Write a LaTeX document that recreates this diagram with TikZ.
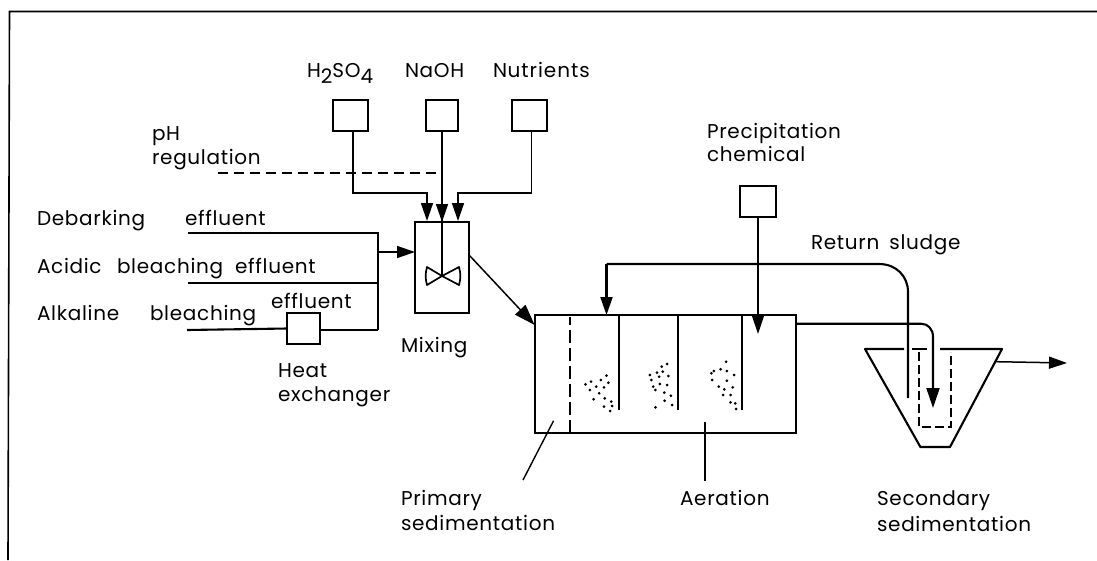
\documentclass[tikz,border=0pt]{standalone}
\usepackage{fontspec}
\setmainfont[LetterSpace=3.5]{Poppins}
\usetikzlibrary{arrows.meta}
\tikzset{
  lbl/.style={anchor=base west,inner sep=0pt,outer sep=0pt,font=\fontsize{20}{20}\selectfont},
  sq/.style={draw=black,line width=2.2pt,inner sep=0pt,outer sep=0pt,fill=none},
  wire/.style={line width=1.5pt,line cap=round},
  heavy/.style={line width=2.1pt},
  arr/.style={-{Triangle[length=18pt,width=12pt]}},
  dash1/.style={line width=1.5pt,dash pattern=on 10pt off 6pt},
  leader/.style={line width=1.4pt}
}
\begin{document}
\begin{tikzpicture}[x=1pt,y=-1pt]
\useasboundingbox (0,0) rectangle (1097,560);
\coordinate (fa) at (8,560); \coordinate (fb) at (9.5,11.5); \coordinate (fc) at (1097,11.5);
\draw[line width=1.6pt] (fa) -- (fb) -- (fc);
% labels
\node[lbl] (th) at (307,77) {H\raisebox{-6pt}{2}SO\raisebox{-6pt}{4}};
\node[lbl] (tn) at (405,77) {NaOH};
\node[lbl] (tu) at (493,77) {Nut\hspace{1pt}r\hspace{1pt}i\hspace{1pt}e\hspace{1pt}n\hspace{1pt}t\hspace{1pt}s};
\node[lbl] (tph) at (152,140) {pH};
\node[lbl] (trg) at (152,164) {regulation};
\node[lbl] (tdb) at (37,225) {Debarking};
\node[lbl] (tde) at (185,225) {effluent};
\node[lbl] (tac) at (37,273) {Acidic};
\node[lbl] (tab) at (117,273) {bleaching};
\node[lbl] (tae) at (235,273) {effluent};
\node[lbl] (tal) at (37,320) {Alkaline};
\node[lbl] (tbl) at (150,320) {bleaching};
\node[lbl] (tee) at (271,308) {effluent};
\node[lbl] (the) at (278,377) {Heat};
\node[lbl] (tex) at (278,401) {exchanger};
\node[lbl] (tmx) at (401,352) {Mixing};
\node[lbl] (tpr) at (401,505) {Primary};
\node[lbl] (tps) at (401,530) {sedimentation};
\node[lbl] (tae2) at (680,505) {Aeration};
\node[lbl] (tse) at (877,505) {Secondary};
\node[lbl] (tss) at (877,531) {sedimentation};
\node[lbl] (tpc) at (707,138) {Precipitation};
\node[lbl] (tch) at (707,161) {chemical};
\node[lbl] (trs) at (811,249) {Return\hspace{10pt}sludge};
% boxes
\node[sq,minimum width=35pt,minimum height=31pt] (bh) at (350.5,115.5) {};
\node[sq,minimum width=32pt,minimum height=31pt] (bn) at (442,115.5) {};
\node[sq,minimum width=35pt,minimum height=31pt] (bu) at (529.5,115.5) {};
\node[sq,minimum width=36pt,minimum height=31pt] (bp) at (758,201.5) {};
\node[sq,minimum width=33pt,minimum height=31pt] (bx) at (303.5,328.5) {};
\node[sq,minimum width=54pt,minimum height=91pt] (mix) at (442,267.5) {};
\node[sq,minimum width=261pt,minimum height=118pt] (tank) at (665.5,374) {};
% inputs to mixer
\coordinate (m1) at (427,221); \coordinate (m3) at (458,221);
\coordinate (jh) at (353,193); \coordinate (ju) at (531.5,193);
\coordinate (imp) at (442,276);
\draw[wire,arr] (bh.south -| jh) -- (jh) -| (m1);
\draw[wire,arr] (bu.south -| ju) -- (ju) -| (m3);
\draw[wire] (bn.south) -- (imp);
\draw[wire,arr] (bn.south) -- (mix.north);
\coordinate (phs) at (217.5,173); \coordinate (phe) at (438,173);
\draw[dash1] (phs) -- (phe);
% impeller
\coordinate (i1) at (427,267); \coordinate (i2) at (427,285); \coordinate (i3) at (459,267); \coordinate (i4) at (459,285);
\draw[line width=1.7pt,line join=round] (imp) -- (i1) to[bend right=15] (i2) -- (imp) -- (i3) to[bend left=15] (i4) -- cycle;
% effluents
\coordinate (e1) at (188,233); \coordinate (e2) at (188,283); \coordinate (e3) at (187,330);
\coordinate (ej1) at (378,233); \coordinate (ej2) at (378,283); \coordinate (ej3) at (378,330); \coordinate (ej) at (378,252);
\draw[heavy] (e1) -- (ej1) -- (ej3);
\draw[heavy] (e2) -- (ej2);
\draw[heavy] (e3) -- (bx.west);
\draw[heavy] (bx.east |- ej3) -- (ej3);
\draw[wire,arr] (ej) -- (ej -| mix.west);
% mixer to tank
\coordinate (mo) at (470,256); \coordinate (ti) at (534.6,325);
\draw[wire,-{Triangle[length=21pt,width=14pt]}] (mo) -- (ti);
% tank internals
\coordinate (pt) at (570,433); \coordinate (pb) at (570,317);
\draw[line width=2.2pt,dash pattern=on 13pt off 5pt] (pt) -- (pb);
\coordinate (b1) at (618.5,410); \coordinate (b2) at (677.5,410); \coordinate (b3) at (741.5,410);
\draw[line width=2pt] (b1) -- (b1 |- tank.north);
\draw[line width=2pt] (b2) -- (b2 |- tank.north);
\draw[line width=2pt] (b3) -- (b3 |- tank.north);
\foreach \a/\b in {178/463,190/480,193/455,207/470,215/490,220/450,235/437,228/472,240/458,200/508,230/505,248/515,228/530,245/543,250/528,
 353/435,357/450,362/470,368/480,372/428,378/440,385/410,400/402,388/425,403/438,380/462,400/465,392/488,410/497,368/532,393/512,413/525,
 520/430,527/423,522/450,545/418,560/395,562/423,582/435,562/452,578/472,540/470,555/478,552/495,572/495,572/517,585/520,587/537}
  \fill ({520+\a/2.717},{230+\b/3}) circle (1.5pt);
% return sludge
\coordinate (rs) at (908,398); \coordinate (ra) at (606.5,315); \coordinate (rc) at (606.5,264);
\draw[heavy] (rs) -- (908,292) .. controls (908,276) and (896,264) .. (879,264) -- (rc);
\draw[heavy,arr] (rc) -- (ra);
% precipitation feed
\coordinate (pa) at (758,334);
\draw[wire,-{Triangle[length=20pt,width=13pt]}] (bp.south) -- (pa);
% outflow
\coordinate (oa) at (933,408);
\draw[heavy,-{Triangle[length=20pt,width=13pt]}] (tank.east |- 0,323.7) -- (921,323.7) .. controls (928,323.7) and (933,329) .. (933,337) -- (oa);
% secondary tank
\coordinate (s1) at (865,349); \coordinate (s2) at (920.4,447); \coordinate (s3) at (950,447); \coordinate (s4) at (1002,349);
\draw[heavy,line join=round] (904,349) -- (s1) -- (s2) -- (s3) -- (s4) -- (940,349);
\draw[heavy] (912,349) -- (927,349);
\coordinate (d1) at (919,352); \coordinate (d2) at (919,427); \coordinate (d3) at (951,427); \coordinate (d4) at (951,352);
\draw[line width=1.5pt,dash pattern=on 9pt off 4pt] (d1) -- (d2) -- (d3) -- (d4);
\coordinate (oo) at (996.6,361.7); \coordinate (ot) at (1067,363);
\draw[wire,arr] (oo) -- (ot);
% leaders
\coordinate (l1) at (553.6,420.7); \coordinate (l2) at (523,480);
\draw[leader] (l1) -- (l2);
\coordinate (l3) at (705,422); \coordinate (l4) at (705,480.7);
\draw[leader] (l3) -- (l4);
\end{tikzpicture}
\end{document}
